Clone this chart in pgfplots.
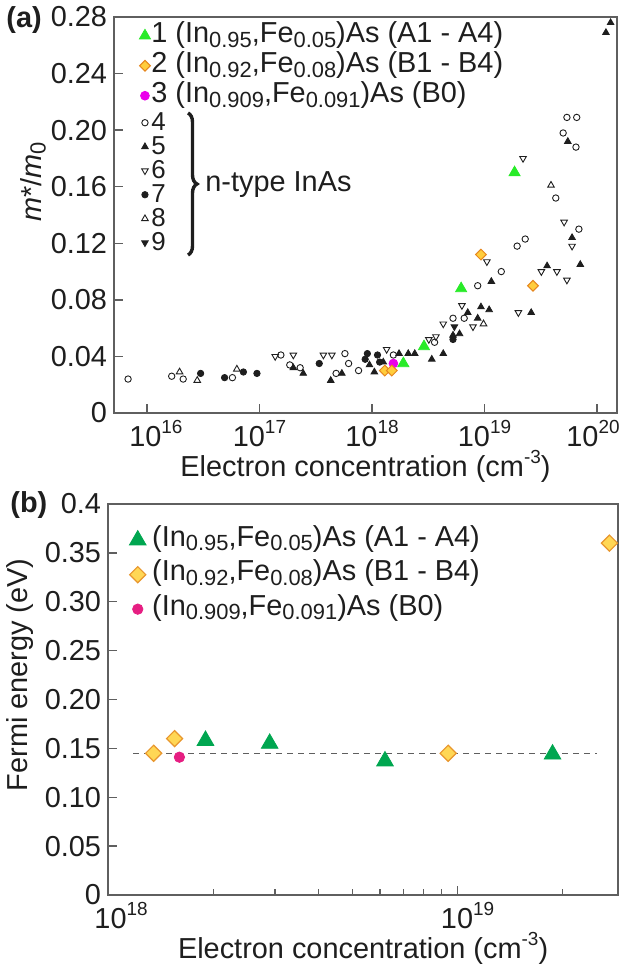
\documentclass[border=0pt]{standalone}
\usepackage{fontspec}
\setmainfont{Liberation Sans}
\usepackage{pgfplots}
\pgfplotsset{compat=1.18}
\usetikzlibrary{decorations.pathreplacing}

\definecolor{axgray}{RGB}{95,95,95}
\definecolor{ink}{RGB}{30,30,30}
\definecolor{lgreen}{RGB}{40,235,40}
\definecolor{dgreen}{RGB}{0,166,80}
\definecolor{dfill}{RGB}{255,205,60}
\definecolor{dedge}{RGB}{230,135,30}
\definecolor{bfill}{RGB}{255,215,85}
\definecolor{bedge}{RGB}{232,150,45}
\definecolor{mag}{RGB}{235,0,235}
\definecolor{pinkc}{RGB}{230,30,130}

\newcommand\fs{\fontsize{14.5}{17}\selectfont}
\newcommand\fss{\fontsize{13}{15}\selectfont}
\newcommand\sub[1]{\raisebox{-0.3ex}{\fontsize{11}{11}\selectfont #1}}
\newcommand\sups[1]{\raisebox{0.85ex}{\fontsize{9.5}{10}\selectfont #1}}
\newcommand\sta{\rule[-4bp]{0pt}{15bp}}
\newcommand\stb{\rule[-2bp]{0pt}{12bp}}
\newcommand\stc{\rule[-5.5bp]{0pt}{17.25bp}}

\pgfplotsset{
  panelstyle/.style={
    scale only axis,
    tick pos=left,
    tick align=inside,
    major tick length=4.5bp,
    minor tick length=3bp,
    axis line style={axgray, line width=0.7bp},
    tick style={axgray, line width=0.7bp},
    tick label style={font=\fs, text=ink},
    label style={font=\fs, text=ink},
    legend cell align=left,
  },
  % top panel markers
  mkAt/.style={only marks, mark=triangle*, mark size=3.2bp, mark options={fill=lgreen, draw=lgreen}},
  mkBt/.style={only marks, mark=square*, mark size=1.9bp, mark options={rotate=45, fill=dfill, draw=dedge, line width=0.5bp}},
  mkCt/.style={only marks, mark=*, mark size=2.2bp, mark options={fill=mag, draw=mag}},
  mkD/.style={only marks, mark=o, mark size=1.6bp, mark options={draw=ink, line width=0.45bp}},
  mkE/.style={only marks, mark=triangle*, mark size=1.9bp, mark options={fill=ink, draw=ink}},
  mkF/.style={only marks, mark=triangle, mark size=1.9bp, mark options={rotate=180, draw=ink, line width=0.45bp}},
  mkG/.style={only marks, mark=*, mark size=1.6bp, mark options={fill=ink, draw=ink}},
  mkH/.style={only marks, mark=triangle, mark size=1.9bp, mark options={draw=ink, line width=0.45bp}},
  mkI/.style={only marks, mark=triangle*, mark size=1.9bp, mark options={rotate=180, fill=ink, draw=ink}},
  % bottom panel markers
  mkAb/.style={only marks, mark=triangle*, mark size=4.8bp, mark options={fill=dgreen, draw=dgreen}},
  mkBb/.style={only marks, mark=square*, mark size=2.85bp, mark options={rotate=45, fill=bfill, draw=bedge, line width=0.6bp}},
  mkCb/.style={only marks, mark=*, mark size=2.6bp, mark options={fill=pinkc, draw=pinkc}},
}

\begin{document}
\begin{tikzpicture}[x=1bp,y=1bp]
\useasboundingbox (0,0) rectangle (310.5,-484.5);

% ---------------- (a) effective mass ----------------
\begin{axis}[
  xmode=log,
  panelstyle,
  at={(57bp,-206.5bp)}, anchor=south west,
  width=251.4bp, height=198bp,
  xmin=5.1e15, xmax=1.5e20,
  ymin=0, ymax=0.28,
  xtick={1e16,1e17,1e18,1e19,1e20},
  xticklabels={\hspace*{9bp}10\sups{16},10\sups{17},10\sups{18},10\sups{19},10\sups{20}\hspace*{4bp}},
  xminorticks=false,
  ytick={0,0.04,0.08,0.12,0.16,0.20,0.24,0.28},
  yticklabels={0,0.04,0.08,0.12,0.16,0.20,0.24,0.28},
  xlabel={Electron concentration (cm\sups{-3})},
  ylabel={\textit{m}*/\textit{m}\sub{0}},
  xlabel style={at={(axis description cs:0.5,-0.134)}, anchor=center},
  ylabel style={at={(axis description cs:-0.161,0.583)}, anchor=center},
  legend image code/.code={\path (0bp,0bp) (6bp,0bp); \draw[#1] plot coordinates {(3bp,0bp)};},
  legend style={at={(axis description cs:0.048,0.9916)}, anchor=north west,
    draw=none, fill=none, inner sep=0pt, row sep=0pt, column sep=0pt,
    font=\fs, text=ink, nodes={inner sep=0pt, text depth={}}},
]
\addlegendimage{mkAt}\addlegendentry{\sta1 (In\sub{0.95},Fe\sub{0.05})As (A1 - A4)}
\addlegendimage{mkBt}\addlegendentry{\sta2 (In\sub{0.92},Fe\sub{0.08})As (B1 - B4)}
\addlegendimage{mkCt}\addlegendentry{\sta3 (In\sub{0.909},Fe\sub{0.091})As (B0)}
\addlegendimage{mkD}\addlegendentry{\stb\fss 4}
\addlegendimage{mkE}\addlegendentry{\stb\fss 5}
\addlegendimage{mkF}\addlegendentry{\stb\fss 6}
\addlegendimage{mkG}\addlegendentry{\stb\fss 7}
\addlegendimage{mkH}\addlegendentry{\stb\fss 8}
\addlegendimage{mkI}\addlegendentry{\stb\fss 9}

% 4: open circles
\addplot[mkD, forget plot] coordinates {
 (6.8e15,0.024) (1.66e16,0.026) (2.1e16,0.024) (5.75e16,0.025) (1.55e17,0.041)
 (1.86e17,0.034) (2.3e17,0.032) (4.8e17,0.028) (5.75e17,0.042) (6.2e17,0.035)
 (7.6e17,0.030) (1.55e18,0.041) (3.6e18,0.050) (5.25e18,0.067) (6.6e18,0.067)
 (8.7e18,0.090) (1.41e19,0.100) (1.95e19,0.118) (2.3e19,0.123) (4.3e19,0.152)
 (5.0e19,0.198) (5.4e19,0.209) (6.6e19,0.209) (6.5e19,0.188) (6.9e19,0.130)
};
% 5: filled triangles
\addplot[mkE, forget plot] coordinates {
 (2.0e17,0.032) (2.45e17,0.028) (4.3e17,0.023) (5.4e17,0.028) (9.5e17,0.034)
 (1.05e18,0.029) (1.26e18,0.036) (1.74e18,0.042) (2.1e18,0.042) (2.4e18,0.042)
 (3.4e18,0.038) (4.3e18,0.042) (5.25e18,0.055) (6.0e18,0.056) (7.1e18,0.071)
 (8.7e18,0.067) (9.3e18,0.075) (1.1e19,0.073) (1.15e19,0.093) (2.6e19,0.071)
 (3.6e19,0.104) (5.5e19,0.192) (6.0e19,0.124) (7.1e19,0.105) (1.2e20,0.269)
 (1.32e20,0.276)
};
% 6: open down triangles
\addplot[mkF, forget plot] coordinates {
 (1.38e17,0.040) (2.0e17,0.041) (3.7e17,0.041) (4.4e17,0.041) (1.35e18,0.045)
 (3.2e18,0.052) (3.7e18,0.054) (4.3e18,0.063) (6.3e18,0.076) (7.9e18,0.061)
 (1.05e19,0.107) (2.0e19,0.071) (2.2e19,0.180) (3.2e19,0.100) (4.4e19,0.100)
 (5.4e19,0.094) (5.1e19,0.135) (6.0e19,0.118)
};
% 7: filled circles
\addplot[mkG, forget plot] coordinates {
 (3.0e16,0.028) (4.9e16,0.025) (7.2e16,0.029) (9.5e16,0.028) (3.4e17,0.035)
 (9.1e17,0.042) (8.7e17,0.038) (1.12e18,0.041) (1.17e18,0.036) (5.25e18,0.052)
};
% 8: open up triangles
\addplot[mkH, forget plot] coordinates {
 (1.95e16,0.029) (2.8e16,0.023) (6.3e16,0.031) (9.8e18,0.063) (3.9e19,0.161)
};
% 9: filled down triangles
\addplot[mkI, forget plot] coordinates {(5.4e18,0.061)};
% 3, 2, 1
\addplot[mkCt, forget plot] coordinates {(1.55e18,0.035)};
\addplot[mkBt, forget plot] coordinates {(1.3e18,0.030) (1.5e18,0.030) (9.3e18,0.112) (2.7e19,0.090)};
\addplot[mkAt, forget plot] coordinates {(1.9e18,0.035) (2.9e18,0.047) (6.2e18,0.088) (1.85e19,0.170)};
\end{axis}

\draw[decorate, decoration={brace, amplitude=4.5bp}, line width=1.7bp, ink]
  (94,-56.5) -- (94,-127.5);
\node[anchor=west, font=\fs, text=ink, inner sep=0pt] at (102.5,-92.5) {n-type InAs};
\node[anchor=west, font=\fs\bfseries, text=ink, inner sep=0pt] at (3,-10) {(a)};

% ---------------- (b) Fermi energy ----------------
\begin{axis}[
  xmode=log,
  panelstyle,
  at={(54bp,-447.5bp)}, anchor=south west,
  width=255bp, height=195.5bp,
  xmin=1e18, xmax=2.88e19,
  ymin=0, ymax=0.4,
  xtick={1e18,1e19},
  xticklabels={\hspace*{13bp}10\sups{18},\hspace*{10bp}10\sups{19}},
  minor xtick={2e18,3e18,4e18,5e18,6e18,7e18,8e18,9e18,2e19},
  ytick={0,0.05,0.10,0.15,0.20,0.25,0.30,0.35,0.4},
  yticklabels={0,0.05,0.10,0.15,0.20,0.25,0.30,0.35,0.4},
  xlabel={Electron concentration (cm\sups{-3})},
  ylabel={Fermi energy (eV)},
  xlabel style={at={(axis description cs:0.5,-0.1355)}, anchor=center},
  ylabel style={at={(axis description cs:-0.1725,0.563)}, anchor=center},
  legend image code/.code={\path (0bp,0bp) (12bp,0bp); \draw[#1] plot coordinates {(5bp,0bp)};},
  legend style={at={(axis description cs:0.037,0.9527)}, anchor=north west,
    draw=none, fill=none, inner sep=0pt, row sep=0pt, column sep=0pt,
    font=\fs, text=ink, nodes={inner sep=0pt, text depth={}}},
]
\addlegendimage{mkAb}\addlegendentry{\stc(In\sub{0.95},Fe\sub{0.05})As (A1 - A4)}
\addlegendimage{mkBb}\addlegendentry{\stc(In\sub{0.92},Fe\sub{0.08})As (B1 - B4)}
\addlegendimage{mkCb}\addlegendentry{\stc(In\sub{0.909},Fe\sub{0.091})As (B0)}

\addplot[axgray, line width=0.7bp, dash pattern=on 3bp off 2.5bp, forget plot]
  coordinates {(1.18e18,0.145) (2.5e19,0.145)};
\addplot[mkAb, forget plot] coordinates {(1.9e18,0.158) (2.9e18,0.155) (6.2e18,0.137) (1.87e19,0.144)};
\addplot[mkBb, forget plot] coordinates {(1.35e18,0.145) (1.55e18,0.160) (9.4e18,0.145) (2.72e19,0.360)};
\addplot[mkCb, forget plot] coordinates {(1.6e18,0.141)};
\end{axis}
\node[anchor=west, font=\fs\bfseries, text=ink, inner sep=0pt] at (5,-252.5) {(b)};
\end{tikzpicture}
\end{document}
